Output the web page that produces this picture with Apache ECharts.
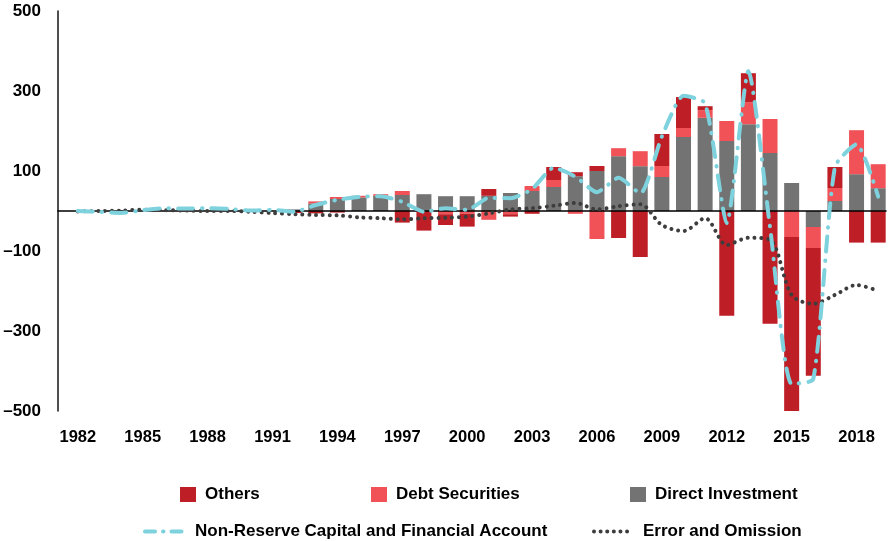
<!DOCTYPE html>
<html>
<head>
<meta charset="utf-8">
<script src="https://cdn.jsdelivr.net/npm/echarts@6/dist/echarts.min.js"></script>
<style>
html,body{margin:0;padding:0;background:#fff;}
#chart{width:889px;height:541px;}
</style>
</head>
<body>
<div id="chart"></div>
<script>
const years = ['1982','1983','1984','1985','1986','1987','1988','1989','1990','1991','1992','1993','1994','1995','1996','1997','1998','1999','2000','2001','2002','2003','2004','2005','2006','2007','2008','2009','2010','2011','2012','2013','2014','2015','2016','2017','2018','2019'];
const xTickYears = ['1982','1985','1988','1991','1994','1997','2000','2003','2006','2009','2012','2015','2018'];
const yTickValues = [-500,-300,-100,100,300,500];

const directInvestment = [0,0,0,0,0,0,0,0,0,0,4,19,30,34,38,40,42,37,37,38,45,50,60,87,100,137,112,85,185,233,175,217,145,70,-40,25,92,57];
const debtSecurities  = [0,0,0,0,0,0,0,0,0,0,0,5,5,4,4,10,0,-8,-7,-22,-8,12.5,17.5,-7,-70,20,37.5,27.5,22.5,19,50,55,85,-65,-52.5,32.5,110,60];
const others          = [0,0,0,0,0,0,0,0,0,0,-5,-6,-4,0,0,-29,-49,-27,-32,17,-6,-7,32.5,10,12.5,-67.5,-115,80,77.5,10,-262,72.5,-282,-439,-319.5,52.5,-79,-79];
const nonReserve      = [0,-2,-5,2,7,6,7,5,1,3,-2,15,28,35,37,23,-2,7,3,33,32,55,108,86,47,83,44,186,288,269,-30,350,-40,-432,-420,110,167,36];
const errorOmission   = [-1,0,1,3,2,1,0,0,-2,-5,-8,-10,-11,-16,-18,-21,-18,-17,-14,-6,4,7,13,20,4,12,17,-35,-50,-18,-85,-67,-72,-210,-232,-210,-185,-200];

const FONT = 'Liberation Sans, Arial, sans-serif';
const C_OTHERS = '#BE1E26', C_DEBT = '#F05257', C_DIRECT = '#737373', C_NR = '#7ED2DD', C_EO = '#3D3D3D';

const chart = echarts.init(document.getElementById('chart'), null, {renderer: 'canvas'});

const legendText = {fontFamily: FONT, fontWeight: 'bold', fontSize: 17, color: '#000', padding: [0,0,0,4]};
const mkLegend = (name, left, top, w, h, extra) => Object.assign({
  orient: 'horizontal', padding: 0, itemGap: 0, left: left, top: top,
  itemWidth: w, itemHeight: h, textStyle: legendText, data: [name]
}, extra || {});

chart.setOption({
  animation: false,
  backgroundColor: '#fff',
  grid: [
    {left: 67, right: 0, top: 11, bottom: 130, containLabel: false},
    {left: 58, right: 3, top: 11, bottom: 130, containLabel: false}
  ],
  legend: [
    mkLegend({name: 'Others', icon: 'rect'}, 180, 486, 16, 15),
    mkLegend({name: 'Debt Securities', icon: 'rect'}, 371, 486, 16, 15),
    mkLegend({name: 'Direct Investment', icon: 'rect'}, 630, 486, 16, 15),
    mkLegend('Non-Reserve Capital and Financial Account', 143, 523, 43, 14, {
      itemStyle: {opacity: 0},
      lineStyle: {color: C_NR, width: 4, type: [10, 8, 0.5, 8], cap: 'round'},
      textStyle: Object.assign({}, legendText, {padding: [0,0,0,2]})
    }),
    mkLegend('Error and Omission', 592, 523, 39, 14, {
      itemStyle: {opacity: 0},
      lineStyle: {color: C_EO, width: 4, type: [0.01, 6.6], cap: 'round'},
      textStyle: Object.assign({}, legendText, {padding: [0,0,0,5]})
    })
  ],
  xAxis: [
    {
      type: 'category', gridIndex: 0, data: years, boundaryGap: true,
      axisLine: {show: false}, axisTick: {show: false}, splitLine: {show: false},
      axisLabel: {
        customValues: xTickYears, interval: 0, margin: 18,
        fontFamily: FONT, fontWeight: 'bold', fontSize: 16.5, color: '#000'
      }
    },
    {
      type: 'value', gridIndex: 1, min: 0, max: 1, z: 3,
      axisLine: {show: true, onZero: true, lineStyle: {color: '#000', width: 1.6}},
      axisTick: {show: false}, axisLabel: {show: false}, splitLine: {show: false}
    }
  ],
  yAxis: [
    {type: 'value', gridIndex: 0, min: -500, max: 500, show: false, splitLine: {show: false}},
    {
      type: 'value', gridIndex: 1, min: -500, max: 500,
      axisLine: {show: true, lineStyle: {color: '#222', width: 1.6}},
      axisTick: {show: false}, splitLine: {show: false},
      axisLabel: {
        customValues: yTickValues, margin: 17,
        fontFamily: FONT, fontWeight: 'bold', fontSize: 17, color: '#000',
        formatter: v => (v < 0 ? '\u2013' + Math.abs(v) : String(v))
      }
    }
  ],
  series: [
    {name: 'Direct Investment', type: 'bar', stack: 'total', barWidth: 15, xAxisIndex: 0, yAxisIndex: 0,
     itemStyle: {color: C_DIRECT}, data: directInvestment},
    {name: 'Debt Securities', type: 'bar', stack: 'total', barWidth: 15, xAxisIndex: 0, yAxisIndex: 0,
     itemStyle: {color: C_DEBT}, data: debtSecurities},
    {name: 'Others', type: 'bar', stack: 'total', barWidth: 15, xAxisIndex: 0, yAxisIndex: 0,
     itemStyle: {color: C_OTHERS}, data: others},
    {
      name: 'Non-Reserve Capital and Financial Account', type: 'line', smooth: 0.2,
      symbol: 'none', z: 5, xAxisIndex: 0, yAxisIndex: 0,
      lineStyle: {color: C_NR, width: 4, type: [15, 9, 0.5, 9], cap: 'round'},
      itemStyle: {color: C_NR},
      data: nonReserve
    },
    {
      name: 'Error and Omission', type: 'line', smooth: 0.3,
      symbol: 'none', z: 4, xAxisIndex: 0, yAxisIndex: 0,
      lineStyle: {color: C_EO, width: 4, type: [0.01, 6.8], cap: 'round'},
      itemStyle: {color: C_EO},
      data: errorOmission
    }
  ]
});
</script>
</body>
</html>
